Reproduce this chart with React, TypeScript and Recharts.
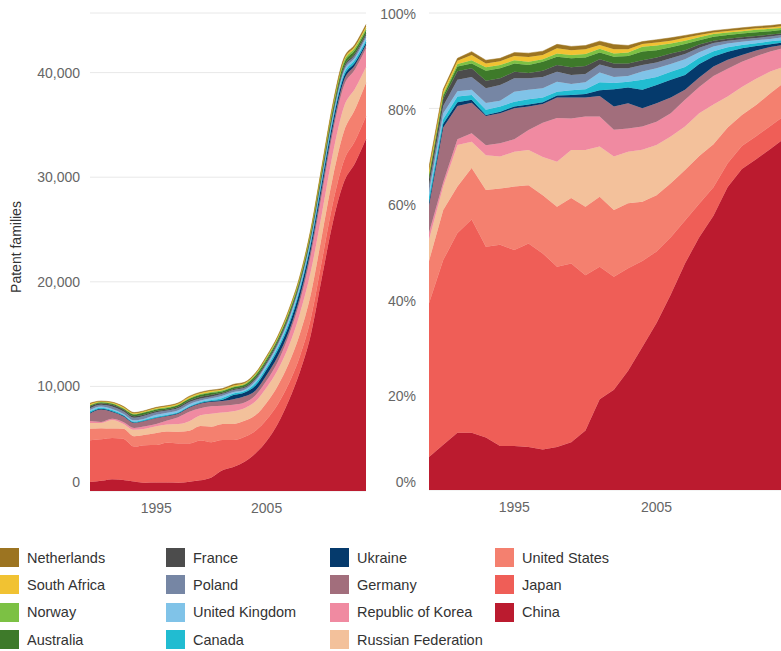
import React from "react";
import { AreaChart, Area, XAxis, YAxis, CartesianGrid } from "recharts";

const years = [1989, 1990, 1991, 1992, 1993, 1994, 1995, 1996, 1997, 1998, 1999, 2000, 2001, 2002, 2003, 2004, 2005, 2006, 2007, 2008, 2009, 2010, 2011, 2012, 2013, 2014];

const china = [860, 973, 1127, 1058, 916, 783, 803, 802, 779, 873, 1016, 1295, 1978, 2293, 2790, 3606, 4785, 6401, 8622, 11342, 14927, 20377, 25696, 29532, 31347, 33644];
const japan = [4000, 3963, 3935, 3940, 3330, 3590, 3586, 3806, 3765, 3667, 3810, 3367, 2894, 2588, 2399, 2164, 2051, 1873, 1634, 1498, 1558, 1605, 1833, 2054, 2119, 2191];
const unitedStates = [1100, 1075, 911, 952, 991, 1004, 1160, 1087, 1118, 1222, 1392, 1492, 1530, 1529, 1518, 1490, 1613, 1764, 1924, 2140, 2336, 2407, 2482, 2782, 3002, 3196];
const russia = [550, 502, 817, 485, 608, 570, 637, 660, 733, 912, 1026, 1233, 1093, 1223, 1205, 1310, 1435, 1530, 1652, 1926, 2155, 2086, 2253, 2354, 1987, 1506];
const korea = [180, 92, 113, 159, 175, 238, 227, 374, 660, 892, 671, 725, 656, 612, 547, 589, 670, 765, 1016, 1177, 1558, 1861, 2024, 2012, 1854, 1780];
const germany = [720, 1178, 657, 564, 508, 536, 567, 437, 357, 417, 447, 414, 448, 535, 591, 457, 533, 515, 381, 428, 519, 610, 535, 514, 397, 320];
const ukraine = [60, 82, 75, 53, 17, 26, 35, 36, 37, 39, 51, 73, 125, 393, 368, 469, 519, 578, 563, 599, 545, 546, 535, 385, 265, 228];
const canada = [150, 102, 113, 88, 92, 94, 87, 98, 92, 78, 102, 104, 177, 142, 134, 252, 232, 265, 309, 278, 286, 289, 267, 257, 265, 228];
const unitedKingdom = [130, 123, 103, 97, 117, 102, 183, 178, 174, 204, 132, 155, 208, 142, 134, 204, 246, 250, 290, 257, 260, 257, 267, 257, 221, 274];
const poland = [170, 154, 225, 238, 258, 281, 244, 214, 220, 204, 193, 176, 177, 197, 179, 168, 164, 187, 200, 193, 182, 193, 191, 214, 221, 228];
const france = [170, 154, 169, 159, 133, 119, 122, 98, 119, 136, 163, 176, 115, 109, 112, 120, 150, 156, 145, 150, 130, 128, 153, 171, 177, 137];
const australia = [80, 61, 94, 88, 175, 179, 148, 152, 174, 165, 193, 186, 146, 153, 179, 216, 205, 203, 236, 193, 208, 257, 305, 342, 309, 320];
const norway = [40, 41, 47, 62, 58, 60, 61, 62, 46, 68, 71, 73, 83, 76, 78, 120, 137, 125, 127, 128, 156, 160, 191, 214, 221, 183];
const southAfrica = [110, 61, 66, 97, 67, 68, 79, 89, 82, 107, 102, 104, 83, 98, 78, 72, 82, 94, 109, 107, 78, 96, 115, 128, 132, 183];
const netherlands = [80, 41, 47, 62, 58, 51, 61, 70, 73, 80, 80, 80, 83, 109, 89, 60, 82, 94, 91, 86, 104, 128, 153, 171, 177, 183];
const others = [4008, 1638, 892, 714, 824, 808, 724, 750, 733, 637, 712, 707, 614, 721, 759, 721, 766, 812, 853, 899, 961, 1091, 1184, 1198, 1148, 1050];

const leftTicks = [0, 10000, 20000, 30000, 40000];
const rightTicks = [0, 0.2, 0.4, 0.6, 0.8, 1];
const xTicks = [1995, 2005];

const series = [
  { key: "China", values: china, color: "#bb1b2f" },
  { key: "Japan", values: japan, color: "#ef5e57" },
  { key: "United States", values: unitedStates, color: "#f4806f" },
  { key: "Russian Federation", values: russia, color: "#f3c19b" },
  { key: "Republic of Korea", values: korea, color: "#f08aa1" },
  { key: "Germany", values: germany, color: "#a26e7c" },
  { key: "Ukraine", values: ukraine, color: "#053a6c" },
  { key: "Canada", values: canada, color: "#21bcd1" },
  { key: "United Kingdom", values: unitedKingdom, color: "#80c3e8" },
  { key: "Poland", values: poland, color: "#7686a4" },
  { key: "France", values: france, color: "#4c4c4c" },
  { key: "Australia", values: australia, color: "#3e7a2a" },
  { key: "Norway", values: norway, color: "#7cc144" },
  { key: "South Africa", values: southAfrica, color: "#f1c232" },
  { key: "Netherlands", values: netherlands, color: "#9c7421" },
];

const legendColumns = [
  ["Netherlands", "South Africa", "Norway", "Australia"],
  ["France", "Poland", "United Kingdom", "Canada"],
  ["Ukraine", "Germany", "Republic of Korea", "Russian Federation"],
  ["United States", "Japan", "China"],
];

const data = years.map((year, i) => {
  const row: Record<string, number> = { year };
  series.forEach((s) => {
    row[s.key] = s.values[i];
  });
  row.Others = others[i];
  return row;
});

const FONT = "'Liberation Sans', Arial, sans-serif";

const LeftTick = (props: any) => {
  const { x, y, payload } = props;
  const shift = payload.value === 0 ? -9 : 0;
  return (
    <text x={x} y={y + shift} dy="0.35em" textAnchor="end" fill="#666" fontSize={14} fontFamily={FONT}>
      {payload.value.toLocaleString("en-US")}
    </text>
  );
};

const RightTick = (props: any) => {
  const { x, y, payload } = props;
  const shift = payload.value === 0 ? -8 : 1.5;
  return (
    <text x={x} y={y + shift} dy="0.35em" textAnchor="end" fill="#666" fontSize={14} fontFamily={FONT}>
      {Math.round(payload.value * 100)}%
    </text>
  );
};

const colorOf = (name: string) => series.find((s) => s.key === name)!.color;

export default function App() {
  return (
    <div style={{ position: "absolute", left: 0, top: 0, width: 781, height: 651, background: "#fff", overflow: "hidden", fontFamily: FONT }}>
      <div style={{ position: "absolute", left: 0, top: 0 }}>
        <AreaChart width={370} height={521} data={data} margin={{ top: 13, right: 4, left: 0, bottom: 0 }}>
          <CartesianGrid vertical={false} stroke="#e8e8e8" />
          <XAxis
            dataKey="year"
            type="number"
            domain={[1989, 2014]}
            ticks={xTicks}
            axisLine={false}
            tickLine={false}
            height={30}
            tickMargin={6}
            tick={{ fill: "#666", fontSize: 14, fontFamily: FONT }}
          />
          <YAxis
            type="number"
            domain={[0, 45700]}
            ticks={leftTicks}
            width={90}
            axisLine={false}
            tickLine={false}
            tickMargin={4}
            tick={<LeftTick />}
          />
          {series.map((s) => (
            <Area
              key={s.key}
              type="monotone"
              dataKey={s.key}
              stackId="a"
              fill={s.color}
              fillOpacity={1}
              stroke={s.color}
              strokeWidth={0.5}
              dot={false}
              activeDot={false}
              isAnimationActive={false}
            />
          ))}
        </AreaChart>
      </div>
      <div
        style={{
          position: "absolute",
          left: 16,
          top: 247,
          transform: "translate(-50%, -50%) rotate(-90deg)",
          fontSize: 14,
          color: "#333",
          whiteSpace: "nowrap",
        }}
      >
        Patent families
      </div>
      <div style={{ position: "absolute", left: 380, top: 0 }}>
        <AreaChart width={401} height={520} data={data} stackOffset="expand" margin={{ top: 13, right: 0, left: 0, bottom: 0 }}>
          <CartesianGrid vertical={false} stroke="#e8e8e8" />
          <XAxis
            dataKey="year"
            type="number"
            domain={[1989, 2013.75]}
            allowDataOverflow
            ticks={xTicks}
            axisLine={false}
            tickLine={false}
            height={30}
            tickMargin={6}
            tick={{ fill: "#666", fontSize: 14, fontFamily: FONT }}
          />
          <YAxis
            type="number"
            domain={[0, 1]}
            ticks={rightTicks}
            width={49}
            axisLine={false}
            tickLine={false}
            tickMargin={7}
            tick={<RightTick />}
          />
          {series.map((s) => (
            <Area
              key={s.key}
              type="linear"
              dataKey={s.key}
              stackId="b"
              fill={s.color}
              fillOpacity={1}
              stroke={s.color}
              strokeWidth={0.5}
              dot={false}
              activeDot={false}
              isAnimationActive={false}
            />
          ))}
          <Area
            type="linear"
            dataKey="Others"
            stackId="b"
            fill="none"
            stroke="none"
            dot={false}
            activeDot={false}
            isAnimationActive={false}
          />
        </AreaChart>
      </div>
      {legendColumns.map((col, ci) =>
        col.map((name, ri) => (
          <div
            key={name}
            style={{
              position: "absolute",
              left: [0, 166, 330, 495][ci],
              top: 548 + ri * 27.4,
              height: 19,
              display: "flex",
              alignItems: "center",
              whiteSpace: "nowrap",
            }}
          >
            <div style={{ width: 19, height: 19, background: colorOf(name), marginRight: 8 }} />
            <span style={{ fontSize: 14.5, color: "#333" }}>{name}</span>
          </div>
        ))
      )}
    </div>
  );
}
